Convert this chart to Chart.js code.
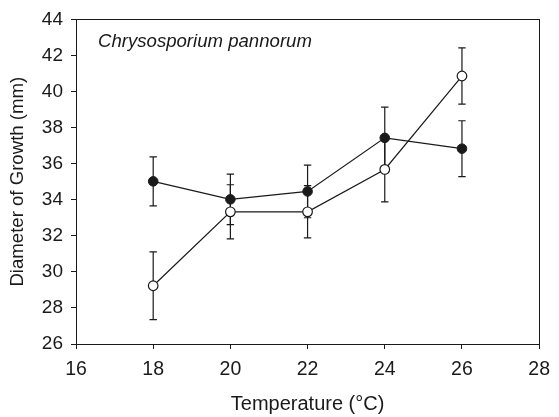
<!DOCTYPE html>
<html>
<head>
<meta charset="utf-8">
<script src="https://cdn.jsdelivr.net/npm/chart.js"></script>
<style>
  body { margin: 0; background: #fff; }
</style>
</head>
<body>
<canvas id="myChart" width="559" height="417"></canvas>
<script>
// data
const temps = [18, 20, 22, 24, 26];
const filledMean = [35.02, 34.02, 34.46, 37.43, 36.83];
const filledErr = [1.36, 1.4, 1.46, 1.7, 1.55];
const openMean = [29.23, 33.33, 33.33, 35.68, 40.86];
const openErr = [1.88, 1.5, 1.45, 1.8, 1.56];
const xTicks = [16, 18, 20, 22, 24, 26, 28];
const yTicks = [26, 28, 30, 32, 34, 36, 38, 40, 42, 44];

const ink = '#1a1a1a';
const fontFam = '"Liberation Sans", Arial, sans-serif';

function toPoints(xs, ys, es) {
  return xs.map((x, i) => ({ x: x, y: ys[i], err: es[i] }));
}

// error bars go under the markers, box + species label on top
const errorBars = {
  id: 'errorBars',
  beforeDatasetsDraw(chart) {
    const ctx = chart.ctx;
    const xs = chart.scales.x, ys = chart.scales.y;
    ctx.save();
    ctx.strokeStyle = ink;
    ctx.lineWidth = 1.2;
    chart.data.datasets.forEach(ds => {
      ds.data.forEach(p => {
        const px = xs.getPixelForValue(p.x);
        const top = ys.getPixelForValue(p.y + p.err);
        const bot = ys.getPixelForValue(p.y - p.err);
        ctx.beginPath();
        ctx.moveTo(px, top); ctx.lineTo(px, bot);
        ctx.moveTo(px - 3.7, top); ctx.lineTo(px + 3.7, top);
        ctx.moveTo(px - 3.7, bot); ctx.lineTo(px + 3.7, bot);
        ctx.stroke();
      });
    });
    ctx.restore();
  },
  afterDraw(chart) {
    const ctx = chart.ctx;
    const a = chart.chartArea;
    ctx.save();
    ctx.strokeStyle = ink;
    ctx.lineWidth = 1;
    ctx.strokeRect(Math.round(a.left) + 0.5, Math.round(a.top) + 0.5,
      Math.round(a.right - a.left), Math.round(a.bottom - a.top));
    ctx.fillStyle = ink;
    ctx.font = 'italic 18.6px ' + fontFam;
    ctx.textBaseline = 'alphabetic';
    ctx.fillText('Chrysosporium pannorum', a.left + 22, a.top + 28);
    ctx.restore();
  }
};

const data = {
  datasets: [
    {
      label: 'filled',
      data: toPoints(temps, filledMean, filledErr),
      showLine: true,
      borderColor: ink,
      borderWidth: 1.2,
      pointRadius: 4.8,
      pointBackgroundColor: ink,
      pointBorderColor: ink,
      pointBorderWidth: 1
    },
    {
      label: 'open',
      data: toPoints(temps, openMean, openErr),
      showLine: true,
      borderColor: ink,
      borderWidth: 1.2,
      pointRadius: 4.8,
      pointBackgroundColor: '#ffffff',
      pointBorderColor: ink,
      pointBorderWidth: 1.2
    }
  ]
};

const config = {
  type: 'scatter',
  data,
  options: {
    responsive: false,
    animation: false,
    layout: { padding: { top: 15, right: 13, left: 0, bottom: 0 } },
    plugins: { legend: { display: false }, tooltip: { enabled: false } },
    scales: {
      x: {
        type: 'linear',
        min: 16, max: 28,
        afterBuildTicks: s => { s.ticks = xTicks.map(v => ({ value: v })); },
        afterFit: s => { s.height = 73; },
        grid: { drawOnChartArea: false, drawTicks: true, tickLength: 5, color: ink },
        border: { display: true, color: ink },
        ticks: { color: ink, padding: 9, maxRotation: 0, font: { family: fontFam, size: 19.5 } },
        title: {
          display: true, text: 'Temperature (°C)', color: ink,
          font: { family: fontFam, size: 20 }, padding: { top: 0, bottom: 1 }
        }
      },
      y: {
        type: 'linear',
        min: 26, max: 44,
        afterBuildTicks: s => { s.ticks = yTicks.map(v => ({ value: v })); },
        afterFit: s => { s.width = 76; },
        grid: { drawOnChartArea: false, drawTicks: true, tickLength: 5, color: ink },
        border: { display: true, color: ink },
        ticks: { color: ink, padding: 8, font: { family: fontFam, size: 19 } },
        title: {
          display: true, text: 'Diameter of Growth (mm)', color: ink,
          font: { family: fontFam, size: 18.6 }, padding: { top: 7, bottom: 0 }
        }
      }
    }
  },
  plugins: [errorBars]
};

const myChart = new Chart(document.getElementById('myChart'), config);
</script>
</body>
</html>
